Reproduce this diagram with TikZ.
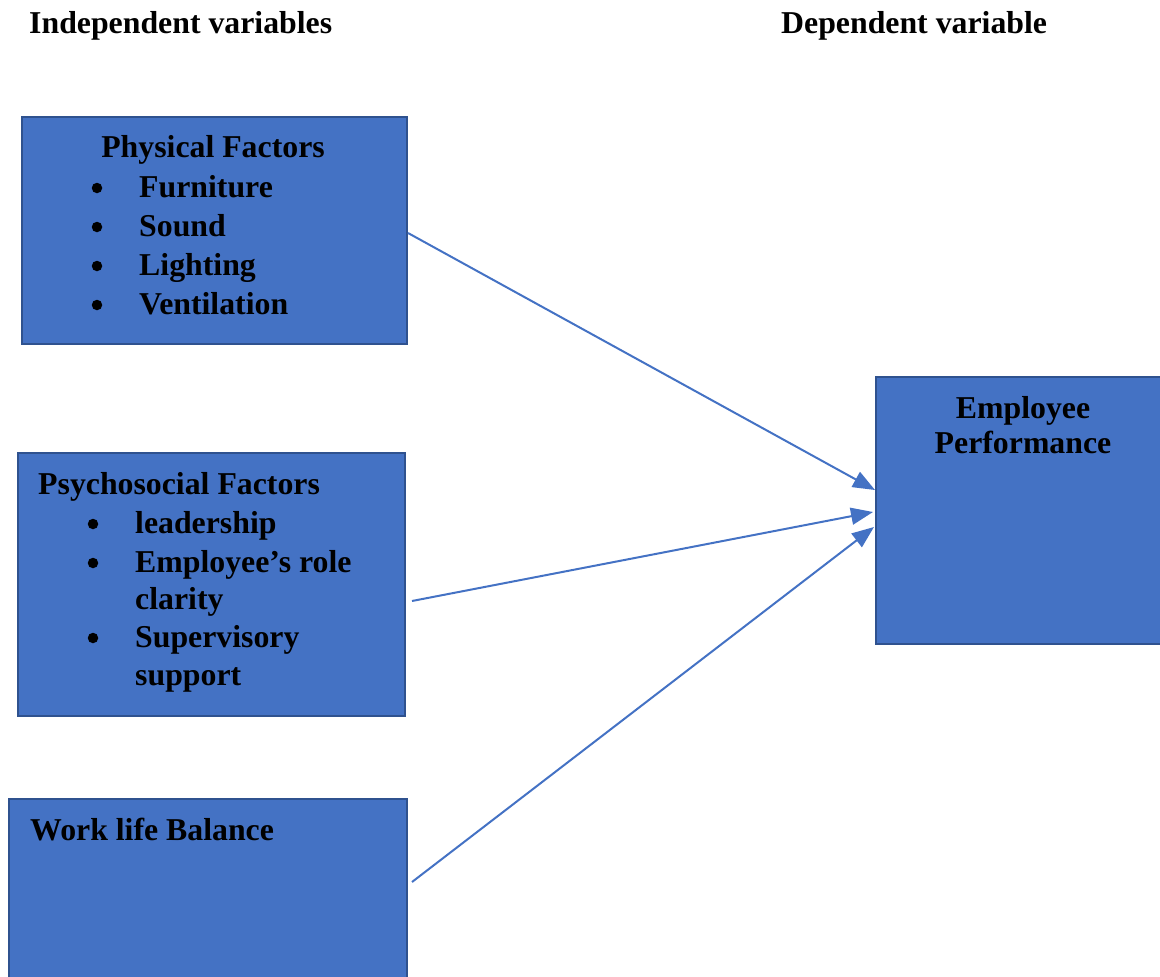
\documentclass[tikz,border=0pt]{standalone}
\usepackage{fontspec}
\setmainfont{Liberation Serif}
\usetikzlibrary{arrows.meta}
\definecolor{boxfill}{HTML}{4472C4}
\definecolor{boxline}{HTML}{2F528F}
\begin{document}
\begin{tikzpicture}[x=1pt,y=-1pt,
  box/.style={draw=boxline,line width=2pt,fill=boxfill,inner sep=0pt,anchor=north west},
  txt/.style={font=\fontsize{31.8}{36}\selectfont\bfseries,inner sep=0pt,anchor=base west},
  ctxt/.style={font=\fontsize{31.8}{36}\selectfont\bfseries,inner sep=0pt,anchor=base},
  bul/.style={circle,fill=black,inner sep=0pt,minimum size=10.5pt},
  link/.style={draw=boxfill,line width=2pt,-{Triangle[length=22pt,width=17pt]}}]
\useasboundingbox (0,0) rectangle (1160,977);
\clip (0,0) rectangle (1160,977);
% headers
\node[txt] (hind) at (29,33) {Independent variables};
\node[txt] (hdep) at (781,33) {Dependent variable};
% boxes
\node[box,minimum width=385pt,minimum height=227pt] (phys) at (21,116) {};
\node[box,minimum width=387pt,minimum height=263pt] (psy) at (17,452) {};
\node[box,minimum width=398pt,minimum height=200pt] (wlb) at (8,798) {};
\node[box,minimum width=296pt,minimum height=267pt] (emp) at (875,376) {};
% physical text
\node[ctxt] (pt) at (213,157) {Physical Factors};
\foreach \y/\t [count=\i] in {197/Furniture,236/Sound,275/Lighting,314/Ventilation}{
  \node[bul] (pb\i) at (97,\y-9) {};
  \node[txt] (pl\i) at (139,\y) {\t};
}
% psychosocial text
\node[txt] (st) at (38,494) {Psychosocial Factors};
\node[bul] (sb1) at (93,524) {};
\node[txt] (sl1) at (135,533) {leadership};
\node[bul] (sb2) at (93,563) {};
\node[txt] (sl2) at (135,572) {Employee’s role};
\node[txt] (sl2b) at (135,609) {clarity};
\node[bul] (sb3) at (93,638) {};
\node[txt] (sl3) at (135,647) {Supervisory};
\node[txt] (sl3b) at (135,685) {support};
% work life
\node[txt] (wt) at (30,840) {Work life Balance};
% employee
\node[ctxt] (et1) at (1023,418) {Employee};
\node[ctxt] (et2) at (1023,453) {Performance};
% connectors
\coordinate (a1) at (408,233);
\coordinate (a2) at (412,601);
\coordinate (a3) at (412,882);
\coordinate (e1) at (875,490);
\coordinate (e2) at (873,512);
\coordinate (e3) at (874,527);
\draw[link] (a1) -- (e1);
\draw[link] (a2) -- (e2);
\draw[link] (a3) -- (e3);
\end{tikzpicture}
\end{document}
